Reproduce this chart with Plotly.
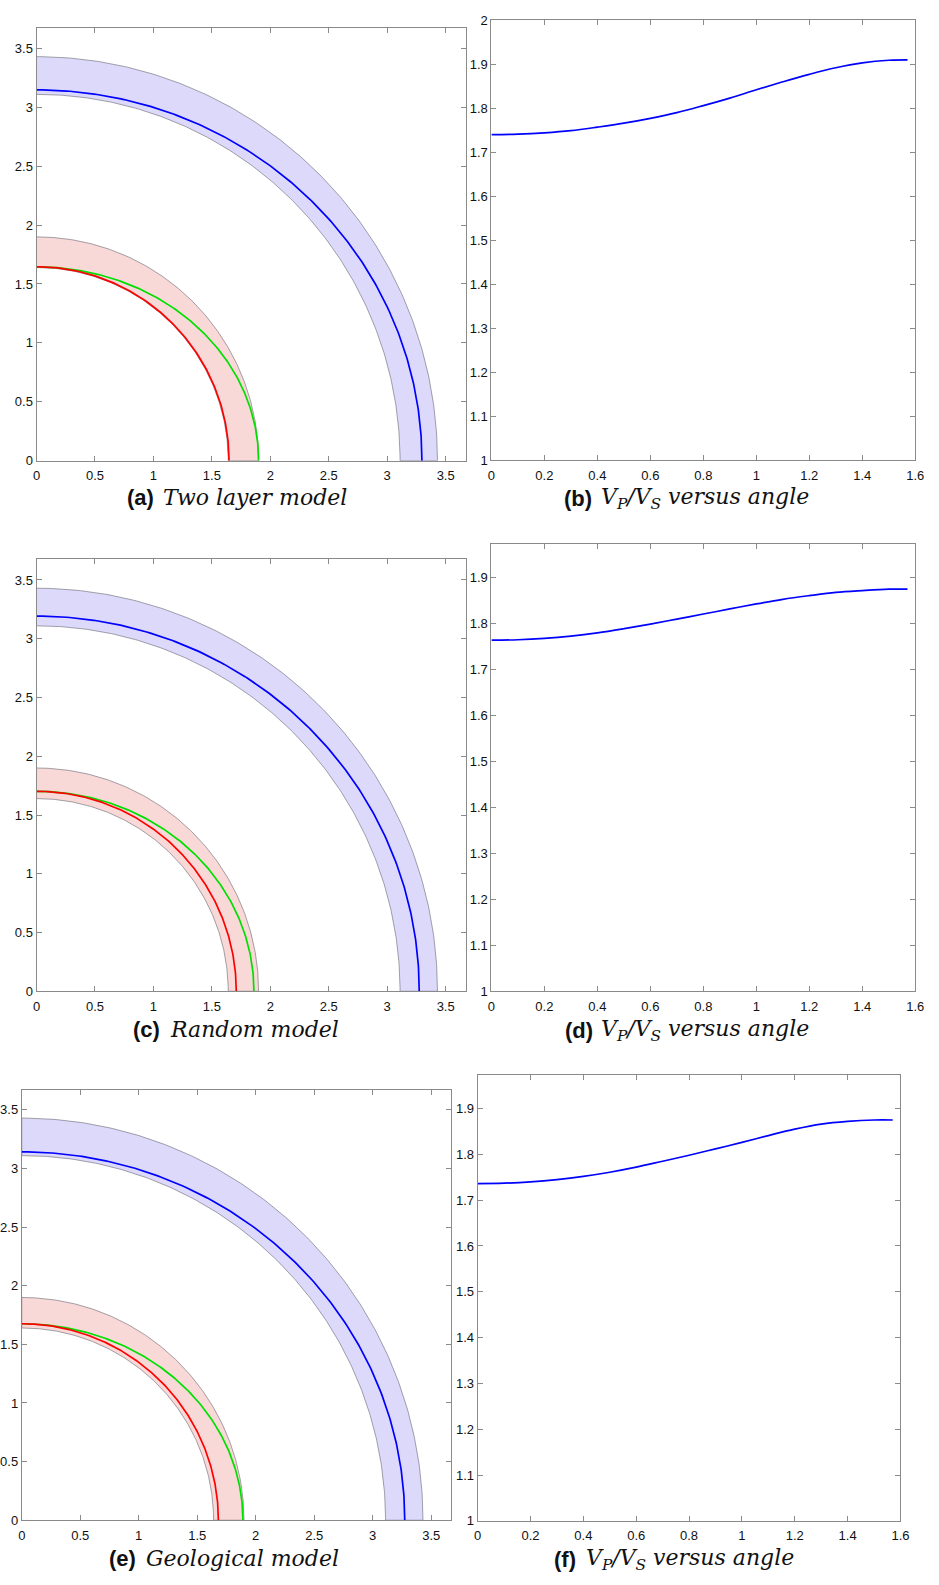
import numpy as np
import plotly.graph_objects as go

W, H = 939, 1585

# ---------------- data ----------------
angles = [0.0, 0.1, 0.2, 0.3, 0.4, 0.5, 0.6, 0.7, 0.8, 0.9, 1.0, 1.1, 1.2, 1.3, 1.4, 1.5, 1.5708]
vpvs_two_layer = [1.740, 1.741, 1.744, 1.749, 1.757, 1.766, 1.777, 1.790, 1.806, 1.823,
                  1.842, 1.860, 1.877, 1.892, 1.903, 1.909, 1.910]
vpvs_random = [1.764, 1.765, 1.768, 1.773, 1.780, 1.789, 1.799, 1.810, 1.821, 1.832,
               1.843, 1.853, 1.861, 1.868, 1.872, 1.875, 1.875]
vpvs_geological = [1.736, 1.737, 1.740, 1.745, 1.752, 1.761, 1.772, 1.785, 1.798, 1.812,
                   1.826, 1.841, 1.855, 1.866, 1.872, 1.875, 1.875]

# band radii (inner, outer)
s_band = [1.64, 1.90]
p_band = [3.11, 3.43]

# wavefront intercepts for panels (a), (c), (e): [x-axis, y-axis]
p_front = [[3.297, 3.148], [3.274, 3.193], [3.274, 3.142]]
s_slow_front = [[1.647, 1.646], [1.709, 1.702], [1.681, 1.676]]
s_fast_front = [[1.900, 1.646], [1.860, 1.702], [1.891, 1.676]]

labels_left = ["(a)", "(c)", "(e)"]
titles_left = ["Two layer model", "Random model", "Geological model"]
labels_right = ["(b)", "(d)", "(f)"]
title_right = "V<sub>P</sub>/V<sub>S</sub> versus angle"

left_ticks = [0, 0.5, 1, 1.5, 2, 2.5, 3, 3.5]
left_ticklabels = ["0", "0.5", "1", "1.5", "2", "2.5", "3", "3.5"]
angle_ticks = [0, 0.2, 0.4, 0.6, 0.8, 1, 1.2, 1.4, 1.6]
angle_ticklabels = ["0", "0.2", "0.4", "0.6", "0.8", "1", "1.2", "1.4", "1.6"]
ratio_ticks = [1.0, 1.1, 1.2, 1.3, 1.4, 1.5, 1.6, 1.7, 1.8, 1.9, 2.0]
ratio_ticklabels = ["1", "1.1", "1.2", "1.3", "1.4", "1.5", "1.6", "1.7", "1.8", "1.9", "2"]

# ---------------- layout geometry (pixels) ----------------
left_boxes = [(31, 467, 21, 458), (31, 467, 557.7, 993.7), (16, 452.3, 1093.3, 1527.7)]
right_boxes = [(493.3, 924, 13.3, 457.7), (493.3, 924, 542.3, 993.7), (479.3, 909, 1078.3, 1528.3)]
left_ranges_y = [3.675, 3.675, 3.67]
right_ranges_y = [2.0, 1.973, 1.973]
# caption: (label right edge, title left edge, vertical centre)
cap_left = [(150, 160, 495.5), (156.7, 166.7, 1032), (131.7, 142.7, 1566)]
cap_right = [(596, 605, 496.5), (596.7, 605, 1033), (579, 589, 1567.5)]

fig = go.Figure()

t = np.linspace(0, np.pi / 2, 200)
band_edge = "rgba(110,110,120,0.9)"
axis_col = "#8a8a8a"


def add_band(r, fillc, xa, ya):
    xs = list(r[1] * np.cos(t)) + list(r[0] * np.cos(t[::-1]))
    ys = list(r[1] * np.sin(t)) + list(r[0] * np.sin(t[::-1]))
    xs.append(xs[0]); ys.append(ys[0])
    fig.add_trace(go.Scatter(x=xs, y=ys, mode="lines", fill="toself", fillcolor=fillc,
                             line=dict(color=band_edge, width=0.7), xaxis=xa, yaxis=ya,
                             hoverinfo="skip"))


def add_front(ab, color, xa, ya):
    fig.add_trace(go.Scatter(x=ab[0] * np.cos(t), y=ab[1] * np.sin(t), mode="lines",
                             line=dict(color=color, width=1.7), xaxis=xa, yaxis=ya))


def px_dom_x(l, r):
    return [l / W, r / W]


def px_dom_y(tp, bt):
    return [1 - bt / H, 1 - tp / H]


axis_common = dict(showgrid=False, zeroline=False, showline=True, linecolor=axis_col, linewidth=1,
                   mirror="ticks", ticks="inside", ticklen=5, tickcolor=axis_col, tickwidth=1,
                   tickfont=dict(family="Liberation Sans, Arial, sans-serif", size=13, color="#111"))

label_font = dict(family="Liberation Sans, Arial, sans-serif", size=22, color="#111")
title_font = dict(family="DejaVu Serif, serif", size=22, color="#111")


def add_caption(label, title, lx, tx, cy):
    annotations.append(dict(x=lx / W, y=1 - cy / H, xref="paper", yref="paper", xanchor="right",
                            yanchor="middle", showarrow=False, borderpad=0, borderwidth=0,
                            text=f"<b>{label}</b>", font=label_font))
    annotations.append(dict(x=tx / W, y=1 - cy / H, xref="paper", yref="paper", xanchor="left",
                            yanchor="middle", showarrow=False, borderpad=0, borderwidth=0,
                            text=f"<i>{title}</i>", font=title_font))


layout_axes = {}
annotations = []
for i in range(3):
    # left panel
    k = 2 * i + 1
    xa, ya = f"x{k}", f"y{k}"
    add_band(p_band, "#dcd9fb", xa, ya)
    add_band(s_band, "#f9d8d8", xa, ya)
    add_front(p_front[i], "#0000ff", xa, ya)
    add_front(s_fast_front[i], "#00e000", xa, ya)
    add_front(s_slow_front[i], "#ff0000", xa, ya)
    l, r, tp, bt = left_boxes[i]
    layout_axes[f"xaxis{k}"] = dict(axis_common, domain=px_dom_x(l, r), range=[0, 3.67],
                                    anchor=ya, tickvals=left_ticks, ticktext=left_ticklabels,
                                    ticklabelstandoff=3)
    layout_axes[f"yaxis{k}"] = dict(axis_common, domain=px_dom_y(tp, bt), range=[0, left_ranges_y[i]],
                                    anchor=xa, tickvals=left_ticks, ticktext=left_ticklabels)
    add_caption(labels_left[i], titles_left[i], *cap_left[i])

    # right panel
    k = 2 * i + 2
    xa, ya = f"x{k}", f"y{k}"
    vals = [vpvs_two_layer, vpvs_random, vpvs_geological][i]
    fig.add_trace(go.Scatter(x=angles, y=vals, mode="lines", line=dict(color="#0000ff", width=1.7,
                                                                        shape="spline", smoothing=1.0),
                             xaxis=xa, yaxis=ya))
    l, r, tp, bt = right_boxes[i]
    layout_axes[f"xaxis{k}"] = dict(axis_common, domain=px_dom_x(l, r), range=[0, 1.6], anchor=ya,
                                    tickvals=angle_ticks, ticktext=angle_ticklabels,
                                    ticklabelstandoff=3)
    layout_axes[f"yaxis{k}"] = dict(axis_common, domain=px_dom_y(tp, bt), range=[1, right_ranges_y[i]],
                                    anchor=xa, tickvals=ratio_ticks, ticktext=ratio_ticklabels)
    add_caption(labels_right[i], title_right, *cap_right[i])

fig.update_layout(width=W, height=H, margin=dict(l=0, r=0, t=0, b=0), showlegend=False,
                  plot_bgcolor="white", paper_bgcolor="white", annotations=annotations, **layout_axes)

fig.write_html("out.html")
